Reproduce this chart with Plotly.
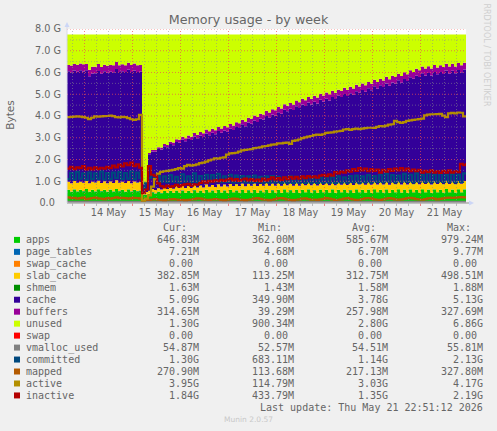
import pandas as pd
import plotly.graph_objects as go

W, H = 497, 431
L, R, T, B = 67, 466, 28.5, 203.0

# ---- data, in GB, one sample per 90 minutes ----
ram_total = 7.75
apps = [.60,.52,.62,.53,.60,.54,.64,.52,.60,.53,
.63,.54,.60,.52,.61,.53,.64,.54,.60,.52,
.62,.53,.60,.54,.58,.37,.38,
.42,.50,.44,.52,.45,.55,.47,.56,.46,.57,
.48,.58,.47,.56,.46,.59,.48,.57,.47,.60,
.49,.58,.47,.60,.48,.58,.47,.60,.49,.58,
.48,.61,.47,.59,.48,.60,.47,.58,.49,.61,
.47,.59,.48,.60,.47,.62,.49,.59,.48,.61,
.47,.60,.49,.62,.48,.59,.47,.61,.49,.60,
.48,.62,.47,.60,.49,.61,.48,.59,.47,.62,
.49,.60,.48,.61,.47,.63,.49,.60,.48,.62,
.47,.60,.49,.63,.48,.61,.47,.62,.49,.60,
.48,.63,.49,.61,.47,.62,.49,.60,.48,.64,
.49,.61,.48,.63,.49,.62,.50]
slab_cache = [.37,.38,.38,.39,.37,.38,.39,.38,.37,.40,
.38,.37,.39,.38,.37,.38,.40,.38,.37,.39,
.38,.37,.38,.39,.38,.11,.12,
.13,.14,.15,.15,.16,.17,.17,.18,.19,.19,
.20,.20,.21,.21,.22,.22,.23,.23,.24,.24,
.25,.24,.26,.25,.27,.26,.28,.27,.28,.28,
.29,.28,.29,.29,.30,.29,.30,.29,.30,.30,
.31,.30,.31,.30,.31,.31,.32,.30,.31,.31,
.32,.31,.32,.31,.33,.32,.33,.32,.33,.32,
.33,.32,.34,.33,.34,.33,.34,.33,.35,.33,
.35,.34,.35,.34,.36,.34,.35,.35,.36,.35,
.36,.35,.37,.35,.36,.36,.37,.35,.37,.36,
.37,.36,.38,.36,.37,.37,.38,.36,.38,.37,
.38,.37,.38,.37,.39,.38,.38]
cache = [5.08,5.10,5.08,5.11,5.13,5.12,5.06,4.92,4.98,5.03,
5.05,5.02,5.06,5.08,5.05,5.09,5.11,5.10,5.08,5.11,
5.13,5.11,5.10,5.09,5.08,.35,.36,
1.68,1.72,1.76,1.80,1.84,1.88,1.92,1.96,2.00,2.04,2.09,2.13,
2.15,2.18,2.21,2.24,2.26,2.29,2.32,2.35,2.37,2.40,2.42,2.45,2.47,2.49,2.52,2.54,
2.58,2.63,2.67,2.72,2.76,2.81,2.86,
2.90,2.95,2.99,3.04,3.08,3.13,3.17,3.22,3.26,3.31,3.35,3.40,3.44,3.48,3.52,3.57,3.61,
3.64,3.68,3.71,3.74,3.77,3.81,3.84,3.87,3.90,3.93,3.96,3.99,4.03,4.06,4.09,4.12,4.15,4.18,4.22,4.25,
4.28,4.32,4.35,4.39,4.42,4.45,4.48,4.52,4.55,4.58,4.61,4.65,4.68,
4.72,4.76,4.80,4.84,4.88,4.93,4.97,
4.98,5.00,5.01,5.03,5.04,5.05,5.06,5.07,5.08,5.09,5.10,5.11,5.12,5.13,5.13]
buffers = [.29,.31,.30,.32,.30,.33,.29,.30,.31,.30,
.32,.31,.30,.32,.31,.32,.33,.31,.32,.30,
.31,.33,.32,.31,.30,.04,.04,
.06,.07,.08,.08,.09,.10,.10,.11,.12,.12,
.13,.13,.14,.15,.15,.16,.16,.17,.17,.18,
.18,.18,.19,.19,.20,.20,.20,.21,.21,.21,
.22,.21,.22,.22,.23,.23,.23,.24,.23,.24,
.24,.24,.25,.24,.25,.25,.25,.26,.25,.26,
.26,.26,.27,.26,.27,.27,.27,.28,.27,.28,
.28,.28,.29,.28,.29,.29,.29,.30,.29,.30,
.29,.30,.30,.29,.30,.30,.30,.31,.30,.31,
.30,.31,.31,.30,.31,.31,.31,.32,.31,.32,
.31,.31,.32,.31,.32,.32,.31,.32,.32,.31,
.32,.32,.31,.32,.32,.31,.31]
committed = [1.10,1.38,1.08,1.42,1.12,1.36,1.06,1.40,1.10,1.36,
1.12,1.44,1.08,1.38,1.10,1.40,1.14,1.42,1.10,1.38,
1.12,1.44,1.10,1.40,1.14,.70,.90,
1.15,1.30,1.05,1.25,.98,1.22,.96,1.28,.98,1.20,
.95,1.32,.98,1.22,.96,1.36,.97,1.24,.98,1.30,
.96,1.28,.98,1.34,.96,1.22,.97,1.30,.95,1.26,
.96,1.24,.95,1.22,.94,1.26,.96,1.20,.94,1.22,
.93,1.24,.95,1.20,.92,1.18,.94,1.22,.92,1.20,
.93,1.18,.92,1.22,.94,1.20,.92,1.16,.93,1.24,
.94,1.20,.92,1.22,.95,1.18,.94,1.24,.96,1.26,
.94,1.22,.96,1.28,.95,1.24,.97,1.30,.96,1.34,
.98,1.28,.96,1.26,.98,1.34,.97,1.30,.96,1.36,
.98,1.28,.97,1.38,.96,1.30,.98,1.36,.97,1.28,
.98,1.34,.96,1.30,.97,1.36,1.30]
mapped = [.26,.22,.24,.20,.22,.25,.18,.20,.23,.25,
.21,.20,.18,.22,.20,.23,.26,.22,.24,.22,
.20,.22,.24,.22,.20,.12,.14,
.14,.16,.18,.15,.14,.13,.15,.17,.18,.16,
.14,.15,.13,.14,.16,.18,.21,.20,.17,.15,
.14,.16,.18,.16,.14,.13,.15,.18,.20,.19,
.16,.14,.13,.15,.17,.20,.22,.19,.16,.15,
.13,.15,.18,.21,.22,.20,.17,.14,.13,.15,
.17,.20,.21,.18,.15,.16,.14,.17,.19,.22,
.20,.17,.14,.15,.17,.20,.22,.19,.16,.14,
.15,.18,.21,.23,.20,.17,.15,.14,.17,.20,
.22,.20,.17,.15,.17,.19,.22,.24,.21,.18,
.16,.15,.18,.21,.23,.20,.17,.19,.21,.24,
.25,.23,.25,.26,.27,.26,.27]
active = [3.95,3.96,3.97,3.98,3.97,3.95,3.92,3.86,3.92,3.98,
3.97,3.98,3.99,4.00,4.02,3.99,3.95,3.94,3.96,3.95,
3.90,3.85,3.82,3.85,4.05,.12,.20,
.35,.75,1.10,1.35,1.43,1.46,1.48,1.50,1.52,1.56,
1.60,1.58,1.70,1.75,1.72,1.74,1.78,1.83,1.86,1.90,
1.96,2.00,2.05,2.04,2.08,2.10,2.22,2.28,2.29,2.31,
2.36,2.42,2.44,2.46,2.48,2.52,2.54,2.56,2.60,2.62,
2.65,2.68,2.70,2.74,2.74,2.76,2.78,2.72,2.86,2.88,
2.92,2.98,3.02,3.05,3.08,3.12,3.14,3.13,3.16,3.22,
3.24,3.25,3.28,3.30,3.32,3.38,3.40,3.36,3.40,3.42,
3.40,3.42,3.44,3.46,3.46,3.45,3.50,3.54,3.52,3.56,
3.60,3.62,3.78,3.72,3.68,3.72,3.78,3.80,3.82,3.84,
3.86,3.88,4.03,4.06,4.08,4.08,4.09,4.10,4.02,3.95,
4.12,4.14,4.12,4.16,4.15,3.98,3.95]
inactive = [1.58,1.66,1.56,1.64,1.60,1.70,1.54,1.62,1.54,1.64,
1.56,1.62,1.58,1.66,1.60,1.72,1.64,1.76,1.68,1.82,
1.74,1.86,1.70,1.78,1.62,.45,.62,
1.70,1.30,1.25,.90,.78,.72,.80,.74,.78,.84,
.76,.82,.86,.88,.80,.86,.84,.92,1.00,.94,
1.02,.98,1.04,1.00,1.06,1.02,1.08,1.12,1.04,1.10,
1.02,1.08,1.12,1.04,1.10,1.02,1.08,1.00,1.12,1.04,
1.10,1.18,1.08,1.14,1.06,1.18,1.10,1.20,1.12,1.20,
1.12,1.22,1.14,1.24,1.18,1.22,1.16,1.26,1.30,1.24,
1.32,1.26,1.42,1.36,1.44,1.40,1.50,1.44,1.56,1.48,
1.60,1.50,1.58,1.46,1.56,1.48,1.54,1.40,1.52,1.44,
1.56,1.48,1.58,1.50,1.60,1.50,1.58,1.46,1.54,1.46,
1.52,1.40,1.48,1.42,1.50,1.40,1.46,1.38,1.48,1.40,
1.50,1.40,1.46,1.42,1.80,1.74,1.84]
N = len(apps)
page_tables = [0.0067] * N
swap_cache = [0.0] * N
shmem = [0.0016] * N
swap = [0.0] * N
vmalloc_used = [0.0545] * N
unused = [ram_total - a - p - c - s - m - k - b for a, p, c, s, m, k, b in
          zip(apps, page_tables, swap_cache, slab_cache, shmem, cache, buffers)]

# ---- legend table ----
labels = ["apps","page_tables","swap_cache","slab_cache","shmem","cache","buffers",
          "unused","swap","vmalloc_used","committed","mapped","active","inactive"]
colors = ["#00CC00","#0066B3","#FF8000","#FFCC00","#008F00","#330099","#990099",
          "#CCFF00","#FF0000","#808080","#00487D","#B35A00","#B38F00","#B30000"]
cur = ["646.83M","7.21M","0.00","382.85M","1.63M","5.09G","314.65M","1.30G","0.00","54.87M","1.30G","270.90M","3.95G","1.84G"]
mins = ["362.00M","4.68M","0.00","113.25M","1.43M","349.90M","39.29M","900.34M","0.00","52.57M","683.11M","113.68M","114.79M","433.79M"]
avgs = ["585.67M","6.70M","0.00","312.75M","1.58M","3.78G","257.98M","2.80G","0.00","54.51M","1.14G","217.13M","3.03G","1.35G"]
maxs = ["979.24M","9.77M","0.00","498.51M","1.88M","5.13G","327.69M","6.86G","0.00","55.81M","2.13G","327.80M","4.17G","2.19G"]
day_labels = ["14 May","15 May","16 May","17 May","18 May","19 May","20 May","21 May"]
day_dates = ["2026-05-14","2026-05-15","2026-05-16","2026-05-17","2026-05-18","2026-05-19","2026-05-20","2026-05-21"]
y_ticks = [0,1,2,3,4,5,6,7,8]
y_labels = ["0.0\u00a0\u00a0","1.0 G","2.0 G","3.0 G","4.0 G","5.0 G","6.0 G","7.0 G","8.0 G"]

# ---- time scale: 2 px per hour, 14 May 00:00 at x=84.5 ----
day0 = pd.Timestamp("2026-05-14")
def t_at(px):
    return day0 + pd.Timedelta(hours=(px - 84.5) / 2)
times = pd.date_range(t_at(L), periods=N, freq="90min")

def px(x): return (x - L) / (R - L)
def py(y): return (B - y) / (B - T)

fig = go.Figure()
areas = [apps, page_tables, swap_cache, slab_cache, shmem, cache, buffers, unused, swap]
for i, vals in enumerate(areas):
    fig.add_trace(go.Scatter(x=times, y=vals, name=labels[i], mode="lines", stackgroup="one",
                             line=dict(width=0, shape="hv", color=colors[i]),
                             fillcolor=colors[i], showlegend=False, hoverinfo="skip"))
for i, vals in [(9, vmalloc_used), (10, committed), (11, mapped), (12, active), (13, inactive)]:
    fig.add_trace(go.Scatter(x=times, y=vals, name=labels[i], mode="lines",
                             line=dict(width=2.2, shape="hv", color=colors[i]),
                             showlegend=False, hoverinfo="skip"))

shapes = []
MINOR = "rgba(140,140,140,0.55)"
MAJOR = "rgba(235,80,80,0.7)"
# grid above the traces
for k in range(-2, 34):
    t = day0 + pd.Timedelta(hours=6 * k)
    if not (t_at(L) < t <= t_at(R)):
        continue
    major = k % 4 == 0
    col = MAJOR if major else MINOR
    shapes.append(dict(type="line", xref="x", yref="paper", x0=t, x1=t, y0=0, y1=1,
                       line=dict(color=col, width=1, dash="1px,2px"), layer="above"))
    shapes.append(dict(type="line", xref="x", yref="paper", x0=t, x1=t, y0=py(B + 3), y1=0,
                       line=dict(color=col, width=1), layer="above"))
for k in range(1, 17):
    col = MAJOR if k % 2 == 0 else MINOR
    shapes.append(dict(type="line", xref="paper", yref="y", x0=0, x1=1, y0=k / 2, y1=k / 2,
                       line=dict(color=col, width=1, dash="1px,2px"), layer="above"))
# axes and arrows
shapes.append(dict(type="line", xref="paper", yref="paper", x0=0, x1=px(469), y0=0, y1=0,
                   line=dict(color="#b0b0b0", width=1.5), layer="above"))
shapes.append(dict(type="line", xref="paper", yref="paper", x0=0, x1=0, y0=0, y1=py(26),
                   line=dict(color="#d8d8e8", width=1), layer="above"))
ARROW = "#ccd6f6"
shapes.append(dict(type="path", xref="paper", yref="paper", layer="above", fillcolor=ARROW, line=dict(width=0),
                   path=f"M {px(469)} {py(200.5)} L {px(474)} {py(203)} L {px(469)} {py(205.5)} Z"))
shapes.append(dict(type="path", xref="paper", yref="paper", layer="above", fillcolor=ARROW, line=dict(width=0),
                   path=f"M {px(64.5)} {py(26.5)} L {px(67)} {py(21.5)} L {px(69.5)} {py(26.5)} Z"))

MONO = "DejaVu Sans Mono"
TXT = "#666666"
ann = []
def text(x, y, s, size=10, color=TXT, family=MONO, xanchor="left", angle=0):
    ann.append(dict(xref="paper", yref="paper", x=px(x), y=py(y), text=s, showarrow=False,
                    xanchor=xanchor, yanchor="middle", textangle=angle, align="left",
                    font=dict(family=family, size=size, color=color), borderpad=0, borderwidth=0))

col_right = [199, 294, 388, 483]
for c, h in zip(col_right, ["Cur:", "Min:", "Avg:", "Max:"]):
    text(c - 36, 227.7, h)
for i, lab in enumerate(labels):
    y = 240 + 12 * i
    shapes.append(dict(type="rect", xref="paper", yref="paper", x0=px(14), x1=px(20),
                       y0=py(y + 3), y1=py(y - 3), fillcolor=colors[i], line=dict(width=0), layer="above"))
    text(26, y, lab)
    for c, col in zip(col_right, [cur, mins, avgs, maxs]):
        s = col[i]
        right = c if s[-1] in "MG" else c - 6
        text(right, y, s, xanchor="right")
text(483, 407.7, "Last update: Thu May 21 22:51:12 2026", xanchor="right")
text(248.5, 420, "Munin 2.0.57", size=7.5, color="#c8c8c8", family="DejaVu Sans", xanchor="center")
text(10.5, 115, "Bytes", size=10.5, color="#666666", family="DejaVu Sans", xanchor="center", angle=-90)
text(487, 54, "RRDTOOL / TOBI OETIKER", size=8, color="#cfcfcf", family="DejaVu Sans", xanchor="center", angle=90)

fig.update_layout(
    width=W, height=H, paper_bgcolor="#f0f0f0", plot_bgcolor="#ffffff",
    margin=dict(l=L, r=W - R, t=T, b=H - B, pad=0), autosize=False,
    title=dict(text="Memory usage - by week", x=248.5 / W, y=1 - 19.5 / H, xanchor="center", yanchor="middle",
               xref="container", yref="container", font=dict(family="DejaVu Sans", size=12.7, color="#666666")),
    showlegend=False, shapes=shapes, annotations=ann,
    xaxis=dict(type="date", range=[t_at(L), t_at(R)], showgrid=False, zeroline=False, showline=False,
               tickmode="array", tickvals=[pd.Timestamp(d) + pd.Timedelta(hours=12) for d in day_dates],
               ticktext=day_labels, ticks="", ticklabelstandoff=2,
               tickfont=dict(family="DejaVu Sans", size=9.7, color="#666666")),
    yaxis=dict(range=[0, 8], showgrid=False, zeroline=False, showline=False,
               tickmode="array", tickvals=y_ticks, ticktext=y_labels, ticks="", ticklabelstandoff=5,
               tickfont=dict(family="DejaVu Sans", size=9.7, color="#666666")),
)
fig.write_html("out.html", config={"displayModeBar": False},
               post_script="document.body.style.margin='0';document.body.style.background='#f0f0f0';")
